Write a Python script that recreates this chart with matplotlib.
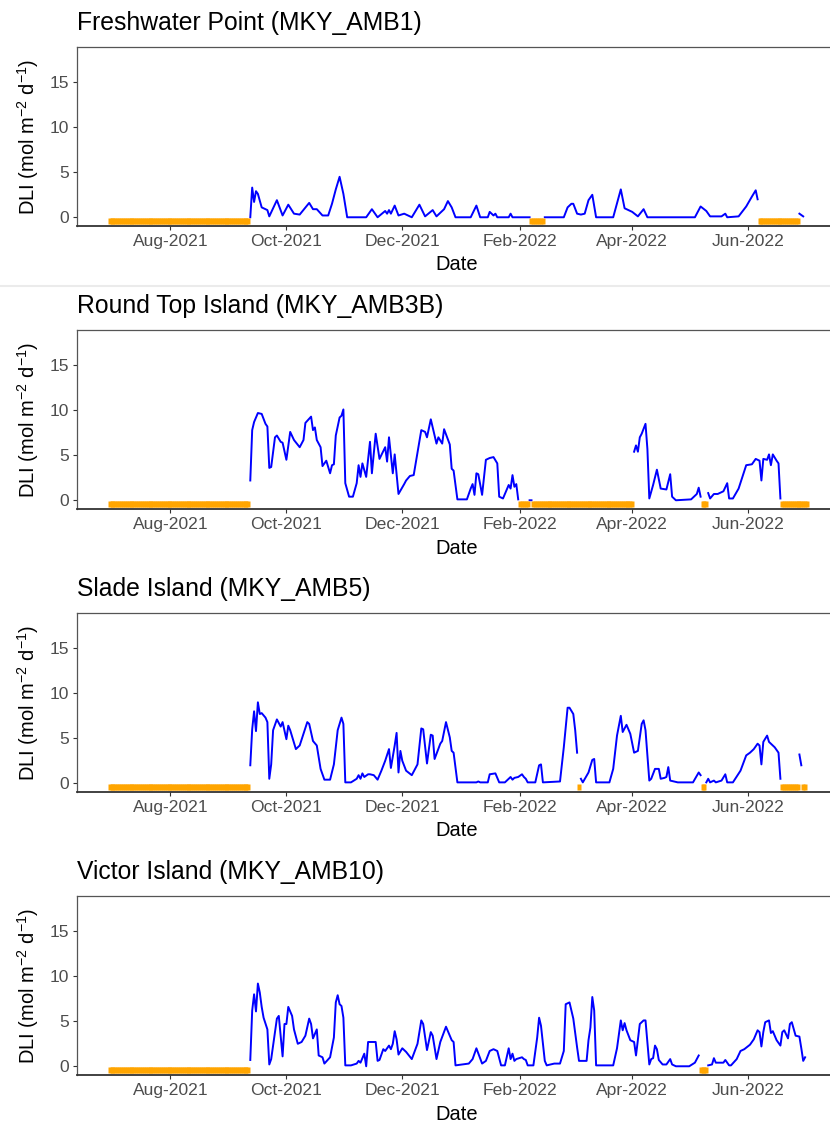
import numpy as np
import pandas as pd
import matplotlib
matplotlib.use("Agg")
import matplotlib.pyplot as plt
import matplotlib.dates as mdates

plt.rcParams['font.family'] = ['Liberation Sans', 'DejaVu Sans']
plt.rcParams['mathtext.fontset'] = 'custom'
plt.rcParams['mathtext.rm'] = 'Liberation Sans'
plt.rcParams['mathtext.it'] = 'Liberation Sans:italic'

# days are counted from 1 Aug 2021; nan marks a break in the logger record
origin = pd.Timestamp('2021-08-01')

titles = ['Freshwater Point (MKY_AMB1)', 'Round Top Island (MKY_AMB3B)',
          'Slade Island (MKY_AMB5)', 'Victor Island (MKY_AMB10)']

fw_day = [42, 43, 44, 45, 46, 48, 51, 52, 56, 59, 62, 65, 68, 73, 75, 77, 80, 83, 85, 87,
          89, 91, 93, 103, 106, 109, 113, 114, 115, 116, 118, 120, 123, 127, 131, 134, 138,
          140, 144, 146, 148, 150, 158, 161, 163, 167, 168, 170, 171, 172, 178, 179, 180,
          189, 193, 197, 207, 209, 211, 212, 214, 216, 218, 220, 222, 224, 233, 237, 239,
          243, 246, 249, 251, 276, 279, 282, 284, 290, 292, 293, 299, 303, 306, 308, 309,
          320, 331, 333]
fw_dli = [0.0, 3.3, 1.7, 2.9, 2.6, 1.1, 0.8, 0.1, 1.9, 0.2, 1.4, 0.4, 0.3, 1.6, 0.9, 0.9,
          0.2, 0.2, 1.5, 3.1, 4.5, 2.6, 0.0, 0.0, 0.9, 0.0, 0.7, 0.4, 0.8, 0.4, 1.3, 0.2,
          0.4, 0.0, 1.4, 0.1, 0.8, 0.1, 0.9, 1.8, 1.1, 0.0, 0.0, 1.3, 0.0, 0.0, 0.6, 0.2,
          0.4, 0.0, 0.0, 0.4, 0.0, 0.0, np.nan, 0.0, 0.0, 1.1, 1.5, 1.5, 0.4, 0.3, 0.4,
          1.9, 2.5, 0.0, 0.0, 3.1, 1.0, 0.6, 0.1, 0.9, 0.0, 0.0, 1.2, 0.7, 0.1, 0.1, 0.4,
          0.0, 0.1, 1.2, 2.3, 3.0, 2.0, np.nan, 0.4, 0.1]
fw_missing = [(-32, 41), (190, 196), (310, 330)]

rt_day = [42, 43, 44, 46, 48, 50, 51, 52, 53, 55, 56, 58, 59, 61, 63, 65, 68, 70, 71, 74,
          75, 76, 77, 79, 80, 82, 84, 85, 86, 87, 89, 90, 91, 92, 94, 96, 98, 99, 100, 101,
          103, 105, 106, 108, 110, 113, 114, 115, 117, 118, 120, 123, 124, 126, 128, 132,
          134, 135, 137, 138, 140, 141, 143, 144, 147, 148, 149, 151, 156, 158, 159, 160,
          161, 162, 164, 166, 168, 170, 172, 173, 175, 178, 179, 180, 181, 182, 183, 186,
          189, 190, 220, 244, 245, 246, 247, 248, 250, 251, 252, 254, 256, 258, 261, 263,
          264, 266, 274, 277, 278, 279, 281, 283, 284, 286, 288, 291, 293, 294, 296, 299,
          303, 306, 308, 310, 311, 312, 314, 315, 316, 317, 319, 320, 321]
rt_dli = [2.2, 7.8, 8.7, 9.7, 9.6, 8.5, 8.2, 3.6, 3.7, 7.0, 7.2, 6.5, 6.4, 4.5, 7.6, 6.7,
          5.9, 6.7, 8.6, 9.3, 7.8, 8.1, 6.7, 5.9, 3.8, 4.4, 3.0, 3.9, 4.0, 7.2, 9.2, 9.4,
          10.1, 1.9, 0.4, 0.4, 1.9, 3.9, 2.6, 4.1, 2.6, 6.5, 3.0, 7.4, 4.6, 5.9, 4.3, 7.0,
          3.0, 5.1, 0.7, 1.8, 2.2, 2.7, 2.8, 7.8, 7.6, 7.0, 9.0, 8.1, 6.3, 7.0, 6.3, 7.9,
          6.2, 3.5, 3.3, 0.1, 0.1, 1.3, 1.8, 0.6, 3.0, 2.9, 0.6, 4.5, 4.7, 4.8, 4.1, 0.4,
          0.2, 1.7, 1.3, 2.8, 1.5, 1.8, 0.1, np.nan, 0.0, 0.0, np.nan, 5.4, 6.1, 5.4, 7.0,
          7.4, 8.5, 5.7, 0.2, 1.7, 3.4, 1.3, 1.2, 2.9, 0.4, 0.0, 0.1, 0.7, 1.4, 0.4, np.nan,
          0.8, 0.2, 0.7, 0.7, 1.0, 1.9, 0.2, 0.2, 1.3, 3.9, 4.0, 4.6, 4.4, 2.2, 4.6, 4.5,
          5.1, 3.9, 5.1, 4.4, 4.1, 0.2]
rt_missing = [(-32, 41), (184, 188), (191, 243), (280, 282), (322, 335)]

sl_day = [42, 43, 44, 45, 46, 47, 48, 50, 51, 52, 53, 54, 56, 58, 59, 61, 62, 63, 66, 68,
          70, 72, 73, 75, 77, 79, 81, 84, 86, 88, 90, 91, 92, 95, 98, 99, 100, 101, 102,
          104, 105, 107, 109, 111, 113, 115, 116, 118, 119, 120, 121, 122, 124, 127, 130,
          132, 133, 135, 137, 138, 139, 142, 143, 145, 147, 148, 149, 151, 161, 162, 163,
          167, 168, 171, 173, 176, 178, 179, 180, 181, 183, 185, 186, 187, 188, 192, 194,
          195, 196, 205, 207, 209, 210, 212, 213, 214, 215, 216, 217, 220, 222, 223, 224,
          231, 233, 235, 237, 238, 240, 242, 244, 246, 248, 249, 250, 252, 253, 255, 257,
          258, 260, 261, 262, 263, 267, 275, 278, 279, 280, 282, 283, 284, 286, 287, 290,
          292, 293, 296, 300, 303, 305, 307, 309, 310, 311, 312, 314, 315, 317, 318, 320,
          321, 326, 331, 332]
sl_dli = [2.0, 6.0, 8.0, 5.8, 9.0, 7.7, 7.8, 7.3, 6.8, 0.5, 2.1, 5.9, 7.1, 6.3, 6.8, 4.9,
          6.4, 5.9, 3.8, 4.2, 5.5, 6.8, 6.6, 4.7, 4.2, 1.6, 0.4, 0.4, 2.1, 5.9, 7.3, 6.6,
          0.1, 0.1, 0.5, 0.9, 0.5, 1.1, 0.7, 1.0, 1.0, 0.9, 0.4, 1.4, 2.5, 3.8, 1.7, 4.2,
          5.6, 1.2, 3.6, 2.5, 1.4, 0.9, 2.1, 6.1, 6.0, 2.2, 5.4, 5.3, 2.7, 4.4, 4.7, 6.8,
          5.1, 3.6, 3.4, 0.1, 0.1, 0.2, 0.1, 0.1, 1.0, 1.1, 0.1, 0.1, 0.5, 0.7, 0.4, 0.6,
          0.7, 1.0, 0.7, 0.5, 0.1, 0.1, 2.0, 2.1, 0.1, 0.2, 4.0, 8.4, 8.4, 7.7, 5.9, 3.4,
          np.nan, 0.5, 0.1, 1.2, 2.6, 2.7, 0.1, 0.1, 1.6, 5.3, 7.5, 5.7, 6.5, 5.5, 3.4, 3.6,
          6.6, 7.0, 5.9, 0.3, 0.5, 1.6, 1.6, 0.5, 0.6, 0.7, 1.8, 0.3, 0.1, 0.1, 1.2, 0.9,
          np.nan, 0.1, 0.5, 0.1, 0.3, 0.1, 0.3, 1.0, 0.1, 0.1, 1.4, 3.1, 3.4, 3.8, 4.4,
          4.2, 2.1, 4.6, 5.3, 4.6, 4.2, 4.0, 3.4, 0.5, np.nan, 3.2, 2.0]
sl_missing = [(-32, 41), (215, 215), (280, 281), (322, 330), (333, 334)]

vi_day = [42, 43, 44, 45, 46, 47, 48, 49, 51, 52, 53, 55, 56, 57, 59, 60, 61, 62, 64, 65,
          67, 69, 71, 73, 74, 75, 77, 78, 80, 81, 84, 86, 87, 88, 89, 90, 91, 92, 95, 98,
          99, 100, 102, 103, 104, 108, 109, 110, 112, 113, 114, 115, 116, 117, 118, 119,
          120, 122, 124, 127, 130, 132, 133, 135, 137, 138, 140, 142, 145, 147, 148, 149,
          150, 157, 159, 161, 164, 166, 168, 170, 172, 174, 176, 178, 179, 180, 181, 182,
          185, 186, 187, 188, 191, 193, 194, 195, 197, 198, 200, 202, 205, 207, 208, 210,
          212, 214, 215, 219, 220, 221, 222, 223, 224, 233, 235, 237, 238, 239, 240, 242,
          244, 245, 247, 249, 250, 252, 253, 254, 255, 256, 257, 259, 261, 263, 264, 266,
          273, 276, 278, 280, 283, 285, 286, 287, 291, 292, 294, 295, 298, 300, 302, 305,
          307, 309, 310, 311, 312, 313, 315, 316, 317, 319, 321, 322, 323, 325, 326, 327,
          329, 331, 332, 333, 334]
vi_dli = [0.7, 6.2, 8.0, 6.1, 9.2, 8.2, 6.6, 5.4, 4.1, 0.2, 0.8, 3.8, 5.3, 5.6, 1.1, 4.7,
          4.7, 6.6, 5.6, 4.1, 2.5, 2.7, 3.4, 5.3, 4.7, 3.1, 4.1, 1.2, 1.0, 0.3, 1.0, 3.2,
          7.1, 7.9, 6.9, 6.7, 5.4, 0.1, 0.1, 0.3, 0.6, 0.4, 1.4, 0.0, 2.7, 2.7, 0.6, 0.7,
          1.9, 1.7, 2.0, 2.3, 1.9, 2.5, 3.9, 3.0, 1.3, 2.0, 1.6, 0.8, 2.5, 5.1, 4.7, 1.8,
          3.8, 3.4, 0.8, 2.7, 4.4, 3.4, 2.9, 2.7, 0.1, 0.3, 0.8, 2.0, 0.3, 0.6, 1.7, 1.9,
          1.7, 0.1, 0.1, 2.0, 0.8, 1.4, 0.6, 0.8, 1.0, 0.8, 0.7, 0.1, 0.1, 3.2, 5.4, 4.5,
          0.6, 0.1, 0.2, 0.3, 0.3, 1.7, 6.9, 7.1, 5.3, 2.1, 0.6, 0.6, 2.9, 4.3, 7.7, 6.2,
          0.1, 0.1, 2.0, 5.1, 4.0, 4.8, 4.0, 2.9, 2.7, 1.2, 4.7, 5.1, 5.1, 0.2, 0.8, 0.9,
          2.3, 1.9, 0.7, 0.2, 0.2, 0.8, 0.2, 0.0, 0.0, 0.4, 1.2, np.nan, 0.1, 0.2, 0.9, 0.4,
          0.4, 0.7, 0.1, 0.1, 0.8, 1.7, 1.9, 2.4, 3.0, 4.0, 3.8, 2.2, 3.8, 4.9, 5.1, 3.7,
          3.9, 2.9, 2.3, 3.8, 4.0, 3.1, 4.7, 4.9, 3.4, 3.3, 2.0, 0.6, 1.0]
vi_missing = [(-32, 41), (279, 282)]

series = [(fw_day, fw_dli, fw_missing), (rt_day, rt_dli, rt_missing),
          (sl_day, sl_dli, sl_missing), (vi_day, vi_dli, vi_missing)]

missing_level = -0.45
tick_days = [0, 61, 122, 184, 243, 304]


def to_dates(days):
    return origin + pd.to_timedelta(np.asarray(days, dtype=float), unit='D')


# tall narrow block for each missing day
day_block = [(-0.3, -0.5), (0.3, -0.5), (0.3, 0.5), (-0.3, 0.5), (-0.3, -0.5)]

W, H = 830, 1122
fig = plt.figure(figsize=(W / 100, H / 100), dpi=100)

for i, (title, (day, dli, missing)) in enumerate(zip(titles, series)):
    off = 283 * i
    top, bottom = 47 + off, 226 + off
    ax = fig.add_axes([77 / W, 1 - bottom / H, 1 - 77 / W, (bottom - top) / H])

    ax.plot(to_dates(day), dli, color='#0000FF', lw=1.4, solid_joinstyle='round')
    for start, end in missing:
        gap_days = np.arange(start, end + 1)
        ax.plot(to_dates(gap_days), np.full(len(gap_days), missing_level), ls='none',
                marker=day_block, ms=4.4, color='#FFA500', mec='none')

    ax.set_xlim(to_dates([-49.2, 347.1]))
    ax.set_ylim(-0.97, 18.93)
    ax.set_yticks([0, 5, 10, 15])
    ax.set_xticks(to_dates(tick_days))
    ax.xaxis.set_major_formatter(mdates.DateFormatter('%b-%Y'))

    ax.spines['right'].set_visible(False)
    for s in ['top', 'left']:
        ax.spines[s].set_color('#555555')
        ax.spines[s].set_linewidth(0.9)
    ax.spines['bottom'].set_color('#333333')
    ax.spines['bottom'].set_linewidth(1.3)
    ax.tick_params(length=3, width=0.8, color='#333333', labelcolor='#4D4D4D',
                   labelsize=12.6, pad=2.5)

    fig.text(77 / W, 1 - (23 + off) / H, title, fontsize=17.8, va='center', ha='left')
    fig.text(457 / W, 1 - (265 + off) / H, 'Date', fontsize=14.5, va='center', ha='center')
    fig.text(28 / W, 1 - ((top + bottom) / 2) / H, r'DLI (mol m$^{-2}$ d$^{-1}$)',
             fontsize=14.5, rotation=90, va='center', ha='center')

# thin rule under the first panel
fig.add_artist(plt.Line2D([0, 1], [1 - 286 / H, 1 - 286 / H], color='#EBEBEB', lw=1.5))

fig.savefig('out.png', dpi=100)
